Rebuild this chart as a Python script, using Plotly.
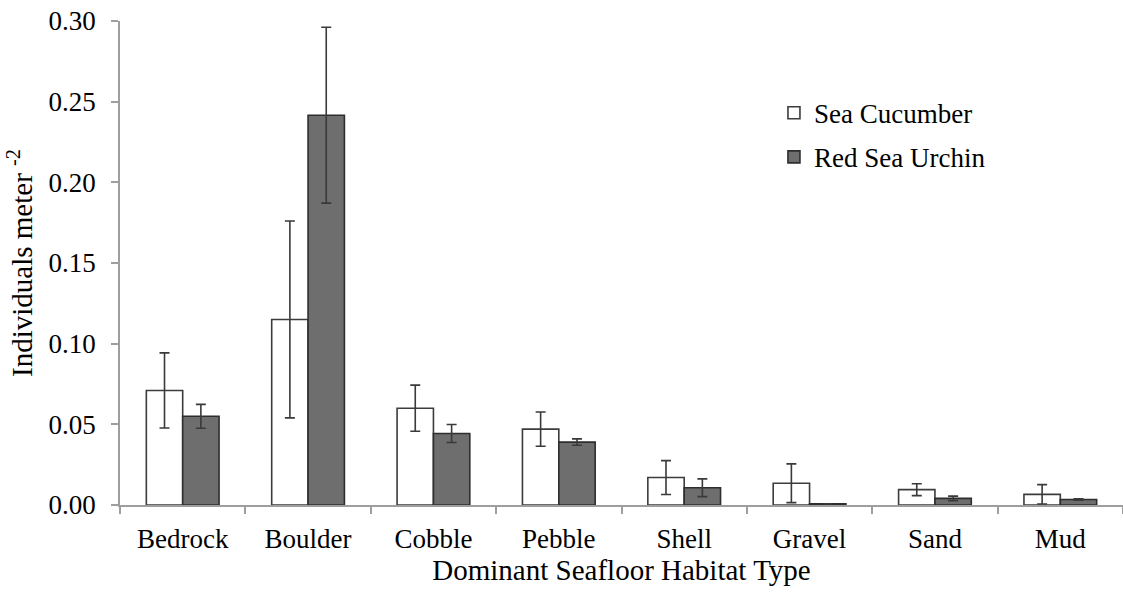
import plotly.graph_objects as go

# Mean density per habitat type, with standard error
habitats = ["Bedrock", "Boulder", "Cobble", "Pebble", "Shell", "Gravel", "Sand", "Mud"]
sea_cucumber = [0.071, 0.115, 0.060, 0.047, 0.017, 0.0135, 0.0095, 0.0066]
sea_cucumber_err = [0.0233, 0.061, 0.0143, 0.0106, 0.0105, 0.012, 0.0037, 0.006]
red_urchin = [0.055, 0.2416, 0.0443, 0.039, 0.0107, 0.0008, 0.0041, 0.0034]
red_urchin_err = [0.0074, 0.0545, 0.0056, 0.002, 0.0055, 0.0, 0.0014, 0.0005]

FONT = "Liberation Serif"
FS = 27
TITLE_FS = 29
ERR_COLOR = "#3a3a3a"
AXIS_COLOR = "#9e9e9e"

fig = go.Figure()
fig.add_trace(go.Bar(
    x=habitats, y=sea_cucumber, name="Sea Cucumber", legendgroup="a",
    marker=dict(color="#ffffff", line=dict(color="#3c3c3c", width=1.6)),
    error_y=dict(type="data", array=sea_cucumber_err, visible=True,
                 color=ERR_COLOR, thickness=1.6, width=5),
))
fig.add_trace(go.Bar(
    x=habitats, y=red_urchin, name="Red Sea Urchin", legendgroup="b",
    marker=dict(color="#6e6e6e", line=dict(color="#2e2e2e", width=1.6)),
    error_y=dict(type="data", array=red_urchin_err, visible=True,
                 color=ERR_COLOR, thickness=1.6, width=5),
))

fig.update_layout(
    width=1123, height=593,
    margin=dict(l=120, r=0, t=21, b=88),
    paper_bgcolor="white", plot_bgcolor="white",
    font=dict(family=FONT, size=FS, color="#000000"),
    barmode="group", bargap=0.42, bargroupgap=0,
    showlegend=True,
    legend=dict(x=0.652, y=0.86, xanchor="left", yanchor="top",
                font=dict(family=FONT, size=FS, color="#000000"),
                tracegroupgap=6, bgcolor="rgba(0,0,0,0)"),
    xaxis=dict(
        title=dict(text="Dominant Seafloor Habitat Type", standoff=4,
                   font=dict(family=FONT, size=TITLE_FS)),
        showline=True, linecolor=AXIS_COLOR, linewidth=1.6,
        ticks="outside", tickson="boundaries", ticklen=7,
        tickcolor=AXIS_COLOR, tickwidth=1.6, ticklabelstandoff=9,
        showgrid=False, tickfont=dict(family=FONT, size=FS),
    ),
    yaxis=dict(
        title=dict(text="Individuals meter <sup>-2</sup>", standoff=7,
                   font=dict(family=FONT, size=TITLE_FS)),
        range=[0, 0.30], dtick=0.05, tickformat=".2f",
        showline=True, linecolor=AXIS_COLOR, linewidth=1.6,
        ticks="outside", ticklen=7, tickcolor=AXIS_COLOR, tickwidth=1.6,
        ticklabelstandoff=10,
        showgrid=False, zeroline=False, tickfont=dict(family=FONT, size=FS),
    ),
)

fig.write_html("out.html")
